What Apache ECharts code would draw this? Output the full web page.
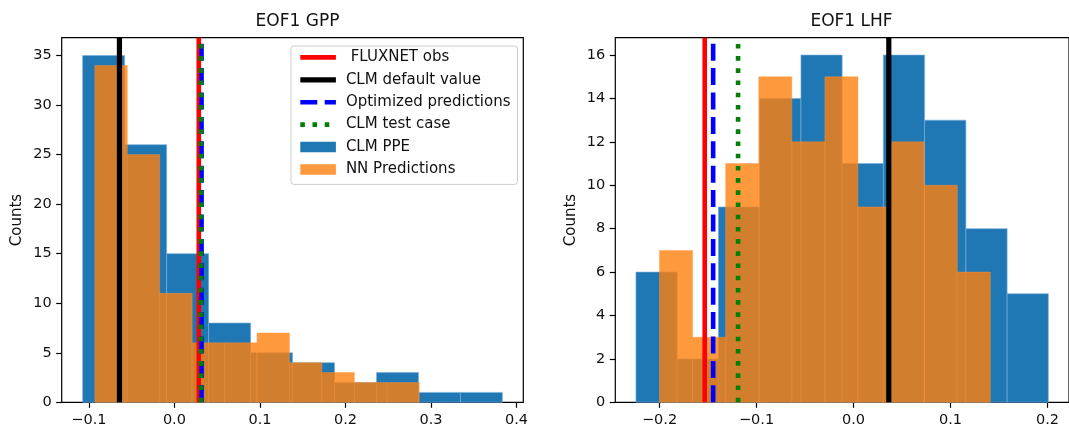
<!DOCTYPE html>
<html>
<head>
<meta charset="utf-8">
<script src="https://cdn.jsdelivr.net/npm/echarts@6/dist/echarts.min.js"></script>
<style>
    html, body { margin: 0; background: #fff; }
    #chart { width: 1069px; height: 428px; }
</style>
</head>
<body>
<div id="chart"></div>
<script>
// histogram bin edges and counts
const gppPpeEdges = [-0.1073, -0.0582, -0.0091, 0.0400, 0.0891, 0.1381, 0.1872, 0.2363, 0.2853, 0.3344, 0.3834];
const gppPpeCounts = [35, 26, 15, 8, 5, 4, 2, 3, 1, 1];
const gppNnEdges = [-0.0930, -0.0551, -0.0172, 0.0207, 0.0587, 0.0966, 0.1345, 0.1724, 0.2104, 0.2483, 0.2862];
const gppNnCounts = [34, 25, 11, 6, 6, 7, 4, 3, 2, 2];

const lhfPpeEdges = [-0.2243, -0.1818, -0.1393, -0.0967, -0.0542, -0.0117, 0.0308, 0.0733, 0.1159, 0.1584, 0.2009];
const lhfPpeCounts = [6, 2, 9, 14, 16, 11, 16, 13, 8, 5];
const lhfNnEdges = [-0.2000, -0.1659, -0.1318, -0.0977, -0.0636, -0.0295, 0.0046, 0.0388, 0.0729, 0.1070, 0.1411];
const lhfNnCounts = [7, 3, 11, 15, 12, 15, 9, 12, 10, 6];

// vertical reference lines: obs, default, optimized, test case
const gppLines = [0.0285, -0.0643, 0.0317, 0.0310];
const lhfLines = [-0.1534, 0.0364, -0.1447, -0.1190];

// axis limits and ticks
const gppXRange = [-0.1318, 0.4079];
const gppYRange = [0, 36.8];
const lhfXRange = [-0.2456, 0.2222];
const lhfYRange = [0, 16.8];
const gppXTicks = [-0.1, 0.0, 0.1, 0.2, 0.3, 0.4];
const gppYTicks = [0, 5, 10, 15, 20, 25, 30, 35];
const lhfXTicks = [-0.2, -0.1, 0.0, 0.1, 0.2];
const lhfYTicks = [0, 2, 4, 6, 8, 10, 12, 14, 16];

const lineNames = [' FLUXNET obs', 'CLM default value', 'Optimized predictions', 'CLM test case'];
const lineColors = ['#ff0000', '#000000', '#0000ff', '#008000'];
const LW = 4.6;
const lineTypes = ['solid', 'solid', [17, 7.4], [LW, 7.6]];
const lineWidths = [LW, 5.2, LW, LW];

const BLUE = '#1f77b4';
const ORANGE = 'rgba(255,127,14,0.8)';
const FONT = 'DejaVu Sans';

function histSeries(name, edges, counts, color, edge, idx, z) {
    return {
        name: name,
        type: 'custom',
        xAxisIndex: idx,
        yAxisIndex: idx,
        z: z,
        animation: false,
        itemStyle: { color: color },
        encode: { x: [0, 1], y: 2 },
        data: counts.map((c, i) => [edges[i], edges[i + 1], c]),
        renderItem: (params, api) => {
            const p0 = api.coord([api.value(0), api.value(2)]);
            const p1 = api.coord([api.value(1), 0]);
            return {
                type: 'rect',
                shape: { x: p0[0], y: p0[1], width: p1[0] - p0[0], height: p1[1] - p0[1] },
                style: { fill: color, stroke: edge, lineWidth: 0.8 }
            };
        }
    };
}

function vlines(xs, ymax, idx) {
    return xs.map((x, i) => ({
        name: lineNames[i],
        type: 'line',
        xAxisIndex: idx,
        yAxisIndex: idx,
        z: 5,
        silent: true,
        animation: false,
        symbol: 'none',
        data: [[x, 0], [x, ymax]],
        itemStyle: { color: lineColors[i] },
        lineStyle: { color: lineColors[i], width: lineWidths[i], type: lineTypes[i], cap: 'butt' }
    }));
}

const fmt = v => v.toFixed(1).replace('-', '\u2212');

function xAxis(range, ticks, idx) {
    return {
        type: 'value', gridIndex: idx, min: range[0], max: range[1],
        splitLine: { show: false },
        axisLine: { show: false, onZero: false },
        axisTick: { show: true, inside: false, length: 5.5, customValues: ticks, lineStyle: { color: '#000', width: 1.2 } },
        axisLabel: { customValues: ticks, formatter: fmt, margin: 10, color: '#111', fontSize: 14.5, fontFamily: FONT }
    };
}

function yAxis(range, ticks, idx) {
    return {
        type: 'value', gridIndex: idx, min: range[0], max: range[1],
        name: 'Counts', nameLocation: 'middle', nameRotate: 90, nameGap: 37,
        nameTextStyle: { color: '#111', fontSize: 15, fontFamily: FONT },
        splitLine: { show: false },
        axisLine: { show: false, onZero: false },
        axisTick: { show: true, inside: false, length: 5.5, customValues: ticks, lineStyle: { color: '#000', width: 1.2 } },
        axisLabel: { customValues: ticks, margin: 10, color: '#111', fontSize: 14.5, fontFamily: FONT }
    };
}

// line entries in the legend: line only, no marker
const hideMarker = { color: 'rgba(0,0,0,0)', borderWidth: 0, opacity: 0 };

const chart = echarts.init(document.getElementById('chart'), null, { renderer: 'canvas' });

chart.setOption({
    backgroundColor: '#fff',
    animation: false,
    title: [
        { text: 'EOF1 GPP', left: 292.5, top: 8, textAlign: 'center',
          textStyle: { fontSize: 17, fontWeight: 'normal', color: '#111', fontFamily: FONT } },
        { text: 'EOF1 LHF', left: 846.5, top: 8, textAlign: 'center',
          textStyle: { fontSize: 17, fontWeight: 'normal', color: '#111', fontFamily: FONT } }
    ],
    grid: [
        { left: 61.7, top: 37.7, width: 461.6, height: 364.6, show: true, borderColor: '#000', borderWidth: 1.2, backgroundColor: 'transparent' },
        { left: 615.3, top: 37.7, width: 462.5, height: 364.6, show: true, borderColor: '#000', borderWidth: 1.2, backgroundColor: 'transparent' }
    ],
    xAxis: [xAxis(gppXRange, gppXTicks, 0), xAxis(lhfXRange, lhfXTicks, 1)],
    yAxis: [yAxis(gppYRange, gppYTicks, 0), yAxis(lhfYRange, lhfYTicks, 1)],
    legend: {
        orient: 'vertical',
        left: 291, top: 46,
        padding: [3.9, 7, 7.5, 6.7],
        itemWidth: 35.6, itemHeight: 10.5, itemGap: 7.4,
        backgroundColor: 'rgba(255,255,255,0.8)',
        borderColor: '#cccccc', borderWidth: 1, borderRadius: 3,
        selectedMode: false,
        lineStyle: { width: 'inherit', type: 'inherit' },
        textStyle: { color: '#111', fontSize: 15, fontFamily: FONT, padding: [0, 0, 0, 5] },
        data: lineNames.map(n => ({ name: n, itemStyle: hideMarker })).concat([
            { name: 'CLM PPE', icon: 'rect' },
            { name: 'NN Predictions', icon: 'rect' }
        ])
    },
    series: [
        histSeries('CLM PPE', gppPpeEdges, gppPpeCounts, BLUE, 'rgba(120,175,220,0.8)', 0, 2),
        histSeries('NN Predictions', gppNnEdges, gppNnCounts, ORANGE, 'rgba(255,150,60,0.5)', 0, 3),
        histSeries('CLM PPE', lhfPpeEdges, lhfPpeCounts, BLUE, 'rgba(120,175,220,0.8)', 1, 2),
        histSeries('NN Predictions', lhfNnEdges, lhfNnCounts, ORANGE, 'rgba(255,150,60,0.5)', 1, 3)
    ].concat(vlines(gppLines, gppYRange[1], 0), vlines(lhfLines, lhfYRange[1], 1))
});

window.onresize = () => chart.resize();
</script>
</body>
</html>
